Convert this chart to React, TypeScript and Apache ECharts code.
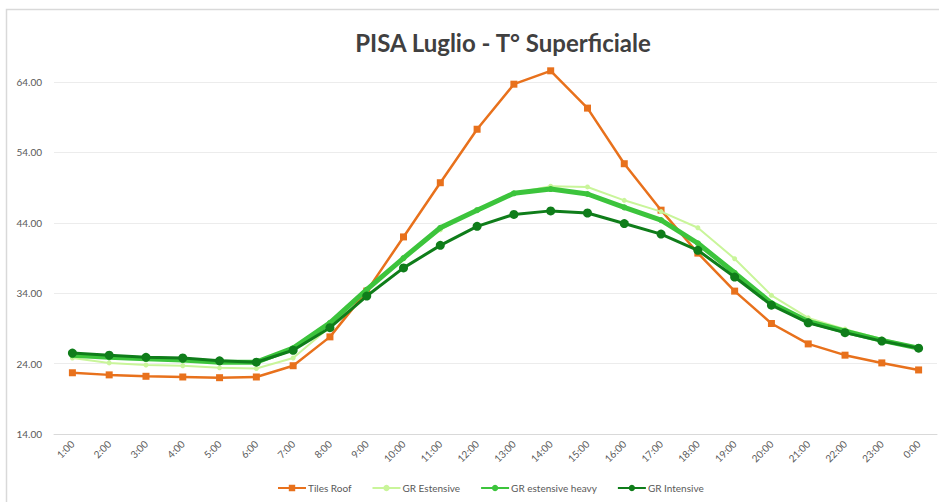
import React, { useEffect, useRef } from "react";
import * as echarts from "echarts";

const hours = ["1:00","2:00","3:00","4:00","5:00","6:00","7:00","8:00","9:00","10:00","11:00","12:00","13:00","14:00","15:00","16:00","17:00","18:00","19:00","20:00","21:00","22:00","23:00","0:00"];
const tilesRoof = [22.7,22.4,22.2,22.1,22.0,22.1,23.7,27.8,34.3,42.0,49.7,57.3,63.7,65.6,60.3,52.4,45.8,39.7,34.3,29.7,26.8,25.2,24.1,23.1];
const grEstensive = [24.8,24.1,23.8,23.7,23.4,23.3,24.8,29.2,34.5,38.9,43.0,45.9,48.2,49.2,49.1,47.2,45.6,43.3,38.9,33.7,30.5,28.9,27.5,26.3];
const grEstensiveHeavy = [25.2,24.9,24.7,24.5,24.2,24.2,26.2,29.8,34.5,39.0,43.3,45.8,48.2,48.8,48.1,46.2,44.4,41.1,36.9,32.6,30.0,28.6,27.3,26.2];
const grIntensive = [25.5,25.2,24.9,24.8,24.4,24.2,25.9,29.1,33.6,37.6,40.8,43.5,45.2,45.7,45.4,43.9,42.4,40.1,36.3,32.3,29.8,28.4,27.2,26.2];
const seriesNames = ["Tiles Roof","GR Estensive","GR estensive heavy","GR Intensive"];

export default function App() {
  const ref = useRef<HTMLDivElement>(null);
  useEffect(() => {
    if (!ref.current) return;
    const chart = echarts.init(ref.current, null, { renderer: "svg" });
    const font = "Lato, 'Open Sans', sans-serif";
    chart.setOption({
      animation: false,
      backgroundColor: "#ffffff",
      textStyle: { fontFamily: font },
      title: {
        text: "PISA Luglio - T° Superficiale",
        left: 498,
        top: 25,
        textAlign: "center",
        textStyle: { fontSize: 24, fontWeight: "bold", color: "#404040", fontFamily: font },
      },
      graphic: [
        {
          type: "rect",
          shape: { x: 6.5, y: 9.5, width: 940, height: 500 },
          style: { fill: "none", stroke: "#d9d9d9", lineWidth: 1.5 },
          silent: true,
          z: -1,
        },
      ],
      legend: {
        bottom: 4,
        left: 272,
        itemWidth: 28,
        itemHeight: 8,
        itemGap: 20,
        textStyle: { fontSize: 10, color: "#595959", fontFamily: font, padding: [0, 0, 0, -3] },
        data: seriesNames,
      },
      grid: { left: 54, right: 2, top: 68, bottom: 68 },
      xAxis: {
        type: "category",
        data: hours,
        boundaryGap: true,
        axisLine: { lineStyle: { color: "#d9d9d9" } },
        axisTick: { show: false },
        axisLabel: { rotate: 45, fontSize: 10, color: "#595959", margin: 8, interval: 0, fontFamily: font },
      },
      yAxis: {
        type: "value",
        min: 14,
        max: 66,
        interval: 10,
        axisLine: { show: false },
        axisTick: { show: false },
        axisLabel: {
          fontSize: 10,
          color: "#595959",
          margin: 12,
          showMaxLabel: false,
          fontFamily: font,
          formatter: (v: number) => v.toFixed(2),
        },
        splitLine: { showMaxLine: false, showMinLine: false, lineStyle: { color: "#ececec" } },
      },
      series: [
        {
          name: seriesNames[0],
          type: "line",
          data: tilesRoof,
          symbol: "rect",
          symbolSize: 7,
          itemStyle: { color: "#e8711c" },
          lineStyle: { color: "#e8711c", width: 2.5 },
          z: 2,
        },
        {
          name: seriesNames[1],
          type: "line",
          data: grEstensive,
          symbol: "circle",
          symbolSize: 5,
          itemStyle: { color: "#c9f59a" },
          lineStyle: { color: "#c9f59a", width: 2 },
          z: 3,
        },
        {
          name: seriesNames[2],
          type: "line",
          data: grEstensiveHeavy,
          symbol: "circle",
          symbolSize: 6,
          itemStyle: { color: "#3cc43c" },
          lineStyle: { color: "#3cc43c", width: 5 },
          z: 4,
        },
        {
          name: seriesNames[3],
          type: "line",
          data: grIntensive,
          symbol: "circle",
          symbolSize: 9,
          itemStyle: { color: "#0f7d1a" },
          lineStyle: { color: "#0f7d1a", width: 3 },
          z: 5,
        },
      ],
    });
    return () => chart.dispose();
  }, []);
  return (
    <div
      ref={ref}
      style={{ position: "absolute", left: 0, top: 0, width: 939, height: 502 }}
    />
  );
}
